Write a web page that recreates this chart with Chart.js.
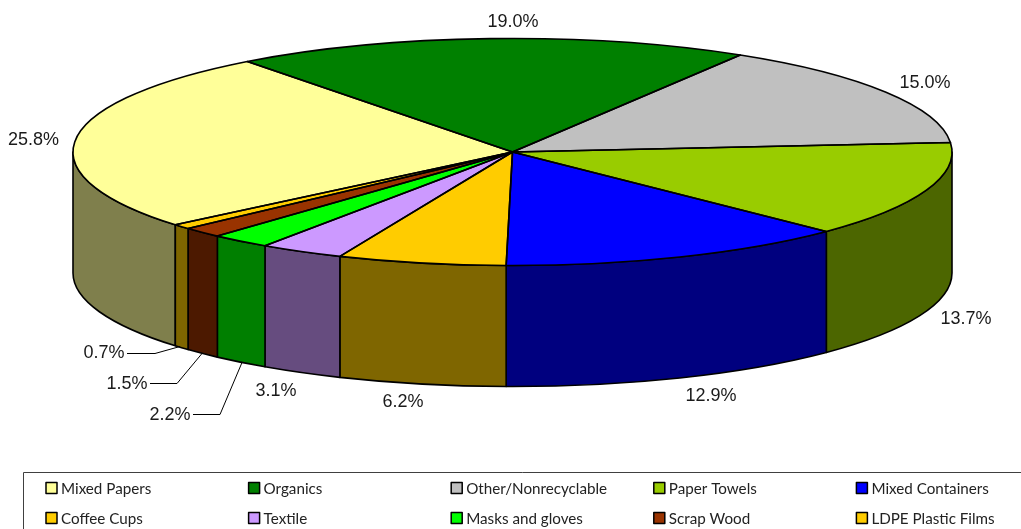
<!DOCTYPE html>
<html>
<head>
<meta charset="utf-8">
<style>html,body{margin:0;padding:0;background:#fff}canvas{display:block}</style>
<script src="https://cdn.jsdelivr.net/npm/chart.js@4"></script>
</head>
<body>
<canvas id="c" width="1021" height="529"></canvas>
<script>
const categories = ["Mixed Papers","Organics","Other/Nonrecyclable","Paper Towels","Mixed Containers","Coffee Cups","Textile","Masks and gloves","Scrap Wood","LDPE Plastic Films"];
const shares = [25.8,19.0,15.0,13.7,12.9,6.2,3.1,2.2,1.5,0.7];
const topColors = ["#FFFF99","#008000","#C0C0C0","#99CC00","#0000FF","#FFCC00","#CC99FF","#00FF00","#993300","#FFCC00"];

const GEO = {cx:512.5, cy:152, rx:439.5, ry:113.5, depth:121};
// where each percentage text sits (in the order of the categories)
const LABEL_AT = [[33.5,140],[513,22],[925,83],[966,319],[711,396],[403,402],[276,391],[170,415],[127,384],[104,353]];
// leader lines for the thin slices, keyed by category index
const LEADERS = {
  7:[[193,414],[220,414],[242,362]],
  8:[[150,383],[177,383],[202,353]],
  9:[[127,353],[155,353],[180,346]]
};
const LEGEND = {left:23.5, top:472, x0:46, dx:202.6, rows:[488,518], swatch:11, perRow:5};

function halve(hex){
  const n = parseInt(hex.slice(1),16);
  const c = s => ((n>>s)&255)/2|0;
  return `rgb(${c(16)},${c(8)},${c(0)})`;
}

const pie3d = {
  id:'pie3d',
  beforeDatasetsDraw(chart){
    const ctx = chart.ctx, g = GEO, arcs = chart.getDatasetMeta(0).data;
    ctx.save();
    ctx.lineWidth = 1.6; ctx.strokeStyle = '#000'; ctx.lineJoin='round';
    arcs.forEach((arc,i)=>{
      for(let k=-1;k<=1;k++){
        const a = Math.max(arc.startAngle, 2*Math.PI*k);
        const b = Math.min(arc.endAngle, Math.PI+2*Math.PI*k);
        if(b<=a) continue;
        ctx.beginPath();
        ctx.ellipse(g.cx,g.cy,g.rx,g.ry,0,a,b);
        ctx.ellipse(g.cx,g.cy+g.depth,g.rx,g.ry,0,b,a,true);
        ctx.closePath();
        ctx.fillStyle = halve(topColors[i]);
        ctx.fill(); ctx.stroke();
      }
    });
    ctx.restore();
    // squash the library's own circular slices into the tilted top face
    const a0 = arcs[0], R = a0.outerRadius;
    ctx.save();
    ctx.translate(g.cx,g.cy);
    ctx.scale(g.rx/R,g.ry/R);
    ctx.translate(-a0.x,-a0.y);
  },
  afterDatasetsDraw(chart){
    const ctx = chart.ctx, g = GEO, arcs = chart.getDatasetMeta(0).data;
    ctx.restore();
    ctx.save();
    ctx.lineWidth = 1.6; ctx.strokeStyle='#000'; ctx.lineJoin='round';
    arcs.forEach(arc=>{
      ctx.beginPath();
      ctx.moveTo(g.cx,g.cy);
      ctx.ellipse(g.cx,g.cy,g.rx,g.ry,0,arc.startAngle,arc.endAngle);
      ctx.closePath();
      ctx.stroke();
    });
    // percentage labels and leaders
    ctx.font = '18px "Liberation Sans"';
    ctx.fillStyle = '#1a1a1a';
    ctx.textAlign='center'; ctx.textBaseline='middle';
    shares.forEach((v,i)=>ctx.fillText(v.toFixed(1)+'%',LABEL_AT[i][0],LABEL_AT[i][1]));
    ctx.lineWidth = 1; ctx.strokeStyle='#000';
    Object.values(LEADERS).forEach(pts=>{
      ctx.beginPath();
      pts.forEach((p,j)=> j? ctx.lineTo(p[0],p[1]+.5) : ctx.moveTo(p[0],p[1]+.5));
      ctx.stroke();
    });
    // legend frame and entries
    const L = LEGEND;
    ctx.strokeStyle='#404040'; ctx.lineWidth=1;
    ctx.beginPath();
    ctx.moveTo(L.left,529); ctx.lineTo(L.left,L.top+.5); ctx.lineTo(1021,L.top+.5);
    ctx.stroke();
    ctx.font='15.2px Lato'; ctx.textAlign='left'; ctx.textBaseline='middle';
    categories.forEach((name,i)=>{
      const col=i%L.perRow, row=Math.floor(i/L.perRow);
      const x=L.x0+col*L.dx, y=L.rows[row];
      ctx.fillStyle=topColors[i];
      ctx.fillRect(x,y-L.swatch/2,L.swatch,L.swatch);
      ctx.strokeStyle='#000'; ctx.lineWidth=1.5;
      ctx.strokeRect(x,y-L.swatch/2,L.swatch,L.swatch);
      ctx.fillStyle='#222';
      ctx.fillText(name,x+15,y+1);
    });
    ctx.restore();
  }
};

new Chart(document.getElementById('c'),{
  type:'pie',
  data:{labels:categories,datasets:[{data:shares,backgroundColor:topColors,borderWidth:0,clip:false}]},
  options:{
    responsive:false,animation:false,rotation:-129.9,
    plugins:{legend:{display:false},tooltip:{enabled:false}}
  },
  plugins:[pie3d]
});
</script>
</body>
</html>
